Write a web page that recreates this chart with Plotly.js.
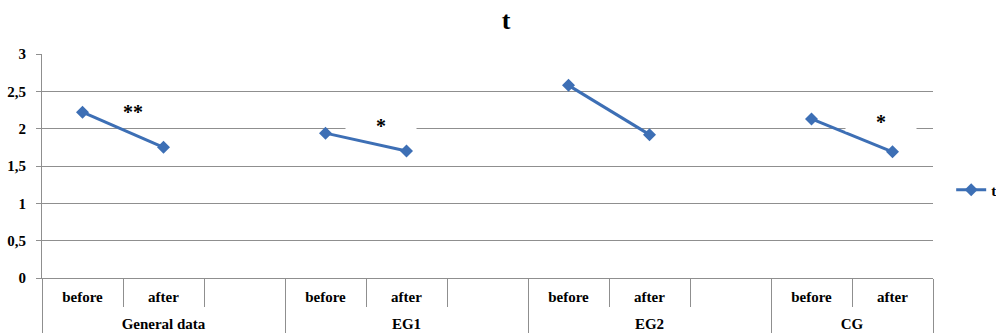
<!DOCTYPE html>
<html>
<head>
<meta charset="utf-8">
<script src="https://cdn.plot.ly/plotly-3.0.1.min.js"></script>
<style>html,body{margin:0;padding:0;background:#fff;}#chart{width:996px;height:333px;}</style>
</head>
<body>
<div id="chart"></div>
<script>
// Data
var groups = ["General data","General data","General data","EG1","EG1","EG1","EG2","EG2","EG2","CG","CG"];
var subs   = ["before","after"," ","before","after"," ","before","after"," ","before","after"];
var tValues = [2.22, 1.75, null, 1.94, 1.70, null, 2.58, 1.92, null, 2.13, 1.69];
var seriesName = "t";
var yTicks = [0, 0.5, 1, 1.5, 2, 2.5, 3];
var signifLabels = ["**", "*", "*"];

var serif = "Liberation Serif";
var lineColor = "#3d6fb5";
var gridColor = "#8f8f8f";
var txt = "#000";

// derived positions (category indices) for label rows and group dividers
var idx = subs.map(function(_, i){ return i; });
var groupNames = [], groupMembers = [], groupBounds = [-0.5];
groups.forEach(function(g, i){
  var k = groupNames.indexOf(g);
  if (k < 0) { groupNames.push(g); groupMembers.push([i]); if (i > 0) groupBounds.push(i - 0.5); }
  else groupMembers[k].push(i);
});
groupBounds.push(groups.length - 0.5);
var groupCenters = groupMembers.map(function(a){ return (a[0] + a[a.length-1]) / 2; });
var xr = [-0.5, groups.length - 0.5];

function helper(axis, xs){
  return {type: "scatter", mode: "none", xaxis: axis, yaxis: "y", x: xs,
          y: xs.map(function(){ return null; }), showlegend: false, hoverinfo: "skip"};
}

var trace = {
  type: "scatter",
  mode: "lines+markers",
  name: seriesName,
  x: [groups, subs],
  y: tValues,
  connectgaps: false,
  line: {color: lineColor, width: 3},
  marker: {symbol: "diamond", size: 10, color: lineColor}
};

var labFont = {family: serif, size: 15, weight: "bold", color: txt};
var annFont = {family: serif, size: 20, weight: "bold", color: txt};

var layout = {
  width: 996, height: 333,
  margin: {l: 42, r: 63, t: 54, b: 55},
  separators: ",.",
  paper_bgcolor: "#fff", plot_bgcolor: "#fff",
  title: {text: "t", font: {family: serif, size: 26, weight: "bold", color: txt}, x: 0.508, xanchor: "center", y: 0.94, yanchor: "middle"},
  xaxis: {
    type: "multicategory",
    range: xr,
    showgrid: false,
    showline: true, linecolor: gridColor, linewidth: 1,
    ticks: "outside", ticklen: 28, tickcolor: gridColor, tickwidth: 1,
    showdividers: false,
    showticklabels: false,
    fixedrange: true
  },
  xaxis2: {
    overlaying: "x", anchor: "y", side: "bottom", type: "linear", range: xr,
    tickmode: "array", tickvals: idx, ticktext: subs,
    ticks: "", showline: false, showgrid: false, zeroline: false,
    ticklabelstandoff: 8, tickfont: labFont, fixedrange: true
  },
  xaxis3: {
    overlaying: "x", anchor: "y", side: "bottom", type: "linear", range: xr,
    tickmode: "array", tickvals: groupCenters, ticktext: groupNames,
    ticks: "", showline: false, showgrid: false, zeroline: false,
    ticklabelstandoff: 35, tickfont: labFont, fixedrange: true
  },
  xaxis4: {
    overlaying: "x", anchor: "y", side: "bottom", type: "linear", range: xr,
    tickmode: "array", tickvals: groupBounds, showticklabels: false,
    ticks: "outside", ticklen: 60, tickcolor: gridColor, tickwidth: 1,
    showline: false, showgrid: false, zeroline: false, fixedrange: true
  },
  yaxis: {
    range: [0, 3],
    tickvals: yTicks,
    showgrid: true, gridcolor: gridColor, gridwidth: 1,
    showline: true, linecolor: gridColor, linewidth: 1,
    ticks: "outside", ticklen: 5, tickcolor: gridColor,
    ticklabelstandoff: 7,
    zeroline: false,
    tickfont: labFont,
    fixedrange: true
  },
  showlegend: true,
  legend: {xref: "container", x: 0.955, xanchor: "left", y: 0.393, yanchor: "middle", font: labFont, bgcolor: "rgba(0,0,0,0)"},
  annotations: [
    {xref: "paper", yref: "y", x: 0.102, y: 2.22, xanchor: "center", yanchor: "middle", text: signifLabels[0], showarrow: false, bgcolor: "rgba(0,0,0,0)", font: annFont},
    {xref: "paper", yref: "y", x: 0.3805, y: 2.03, xanchor: "center", yanchor: "middle", text: signifLabels[1], showarrow: false, bgcolor: "#fff", width: 68, height: 16, font: annFont},
    {xref: "paper", yref: "y", x: 0.9416, y: 2.09, xanchor: "center", yanchor: "middle", text: signifLabels[2], showarrow: false, bgcolor: "#fff", width: 68, height: 16, font: annFont}
  ]
};

Plotly.newPlot("chart", [trace, helper("x2", idx), helper("x3", groupCenters), helper("x4", groupBounds)], layout, {displayModeBar: false, staticPlot: true});
</script>
</body>
</html>
